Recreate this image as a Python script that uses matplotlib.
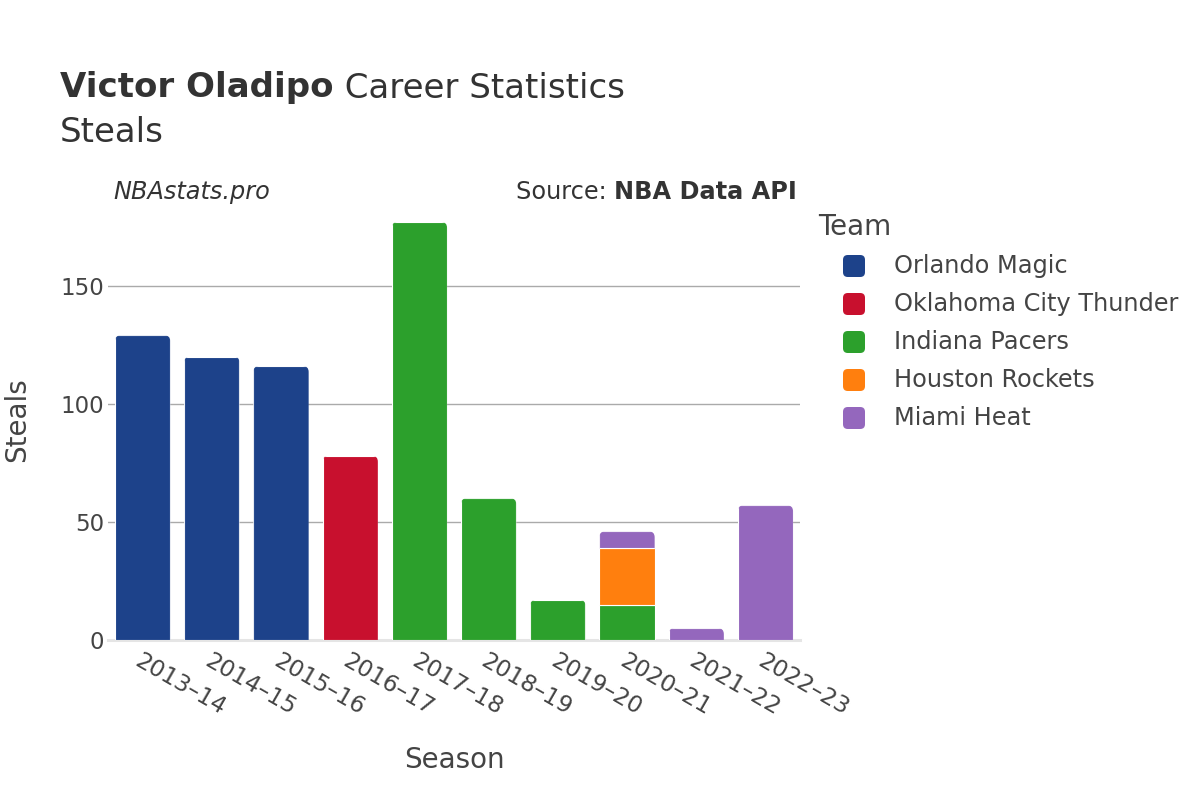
import matplotlib
matplotlib.use("Agg")
import matplotlib.pyplot as plt
from matplotlib.patches import FancyBboxPatch
import numpy as np

plt.rcParams['font.family'] = ['DejaVu Sans']

seasons = ["2013–14", "2014–15", "2015–16", "2016–17", "2017–18",
           "2018–19", "2019–20", "2020–21", "2021–22", "2022–23"]
teams = ["Orlando Magic", "Oklahoma City Thunder", "Indiana Pacers",
         "Houston Rockets", "Miami Heat"]
colors = ["#1d428a", "#c8102e", "#2ca02c", "#ff7f0e", "#9467bd"]

orlando = [129, 120, 116, 0, 0, 0, 0, 0, 0, 0]
okc     = [0, 0, 0, 78, 0, 0, 0, 0, 0, 0]
indiana = [0, 0, 0, 0, 177, 60, 17, 15, 0, 0]
houston = [0, 0, 0, 0, 0, 0, 0, 24, 0, 0]
miami   = [0, 0, 0, 0, 0, 0, 0, 7, 5, 57]
series = [orlando, okc, indiana, houston, miami]

TXT = "#444444"
W, H = 1200, 800
fig = plt.figure(figsize=(12, 8), dpi=100)
L, R, T, B = 108, 800, 200, 640
ax = fig.add_axes([L / W, 1 - B / H, (R - L) / W, (B - T) / H])

x = np.arange(len(seasons))
totals = np.sum(np.array(series), axis=0)
ymax = totals.max() * 1.0525
ax.set_xlim(-0.5, len(seasons) - 0.5)
ax.set_ylim(0, ymax)

px_x = (R - L) / len(seasons)
px_y = (B - T) / ymax
rad_px = 6
rx = rad_px / px_x
aspect = (rad_px / px_y) / rx

width = 0.8
bottom = np.zeros(len(seasons))
top_patch = [None] * len(seasons)
for vals, col in zip(series, colors):
    vals = np.array(vals, dtype=float)
    bars = ax.bar(x, vals, width=width, bottom=bottom, color=col,
                  edgecolor="white", linewidth=0.8, zorder=3)
    for i, (b, v) in enumerate(zip(bars, vals)):
        if v > 0:
            top_patch[i] = b
        else:
            b.set_visible(False)
    bottom += vals

for i, b in enumerate(top_patch):
    if b is None:
        continue
    clip = FancyBboxPatch((x[i] - width / 2, -20), width, totals[i] + 20,
                          boxstyle=f"round,pad=0,rounding_size={rx}",
                          mutation_aspect=aspect, transform=ax.transData,
                          facecolor="none", edgecolor="none")
    b.set_clip_path(clip)

ax.axhline(0, color="#e5e5e5", lw=2.2, zorder=2, clip_on=False)
ax.yaxis.grid(True, color="#aaaaaa", lw=1)
ax.set_axisbelow(True)
for s in ax.spines.values():
    s.set_visible(False)
ax.set_yticks([0, 50, 100, 150])
ax.tick_params(axis="y", length=0, pad=3, labelsize=16.5, labelcolor=TXT)
ax.set_xticks(x)
ax.set_xticklabels(seasons, rotation=-30, ha="left", va="top",
                   rotation_mode="anchor")
ax.tick_params(axis="x", length=0, pad=7, labelsize=16.8, labelcolor=TXT)

# titles
t1 = fig.text(60 / W, 1 - 88 / H, "Victor Oladipo", fontsize=24.5,
              fontweight="bold", color="#333333", va="center", ha="left")
fig.canvas.draw()
bb = t1.get_window_extent()
fig.text(bb.x1 / W, 1 - 88 / H, " Career Statistics", fontsize=24.5,
         color="#333333", va="center", ha="left")
fig.text(60 / W, 1 - 132 / H, "Steals", fontsize=24.5, color="#333333",
         va="center", ha="left")

fig.text(113 / W, 1 - 192 / H, "NBAstats.pro", fontsize=17.3, style="italic",
         color="#333333", va="center", ha="left")
src = fig.text(797 / W, 1 - 192 / H, "NBA Data API", fontsize=17.3,
               fontweight="bold", color="#333333", va="center", ha="right")
fig.canvas.draw()
bb2 = src.get_window_extent()
fig.text(bb2.x0 / W, 1 - 192 / H, "Source: ", fontsize=17.3,
         color="#333333", va="center", ha="right")

fig.text(17 / W, 1 - 420 / H, "Steals", fontsize=20, color=TXT,
         rotation=90, va="center", ha="center")
fig.text(454 / W, 1 - 760 / H, "Season", fontsize=20, color=TXT,
         va="center", ha="center")

# legend
fig.text(818 / W, 1 - 227 / H, "Team", fontsize=20, color=TXT,
         va="center", ha="left")
for k, (name, col) in enumerate(zip(teams, colors)):
    yc = 266 + 38 * k
    sq = 22
    p = FancyBboxPatch((843 / W, 1 - (yc + sq / 2) / H), sq / W, sq / H,
                       boxstyle="round,pad=0,rounding_size=0.004",
                       mutation_aspect=W / H,
                       transform=fig.transFigure, facecolor=col,
                       edgecolor="none")
    fig.patches.append(p)
    fig.text(894 / W, 1 - yc / H, name, fontsize=17.3, color=TXT,
             va="center", ha="left")

fig.savefig("out.png", dpi=100, facecolor="white")
